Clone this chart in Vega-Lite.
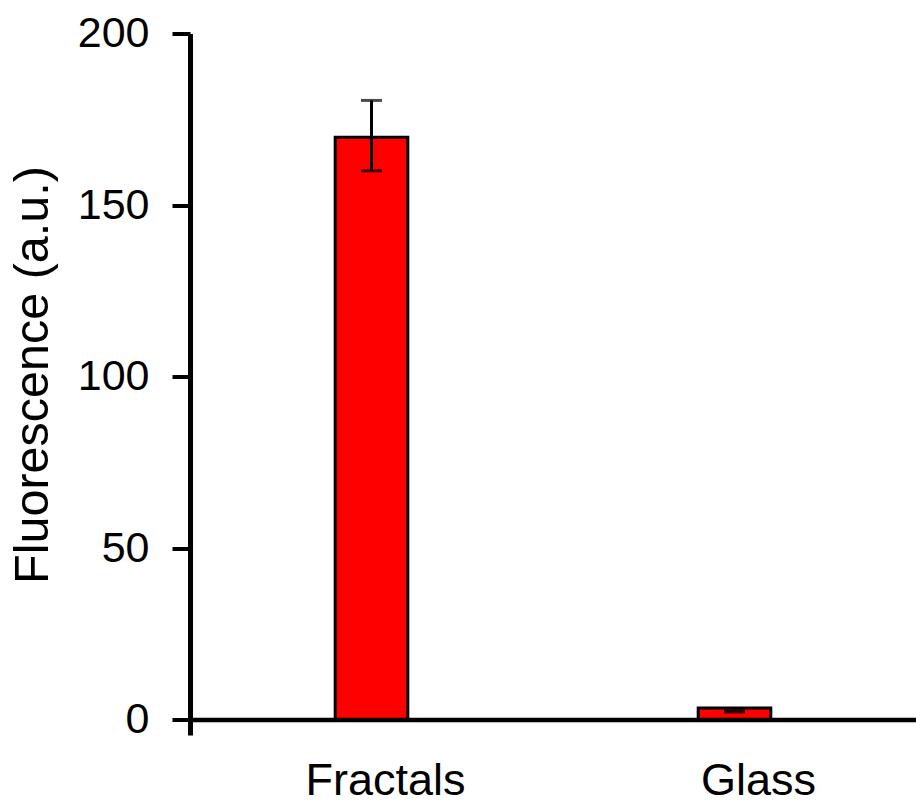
{
  "$schema": "https://vega.github.io/schema/vega-lite/v6.json",
  "width": 726,
  "height": 701.5,
  "autosize": "none",
  "padding": {"left": 190, "top": 33.5, "right": 0, "bottom": 71},
  "config": {"view": {"stroke": null}, "font": "Liberation Sans"},
  "data": {
    "values": [
      {"surface": "Fractals", "fluorescence": 169.8, "low": 160, "high": 180.5},
      {"surface": "Glass", "fluorescence": 3.5, "low": 2.3, "high": 2.7}
    ]
  },
  "layer": [
    {
      "mark": {"type": "bar", "fill": "#ff0000", "stroke": "#000000", "strokeWidth": 3, "width": {"band": 0.2}},
      "encoding": {
        "x": {
          "field": "surface", "type": "nominal", "sort": null,
          "scale": {"paddingInner": 0, "paddingOuter": 0},
          "axis": {"domain": false, "ticks": false, "labelFontSize": 45, "labelPadding": 23, "labelAngle": 0, "labelColor": "#000000", "title": null,
                   "labelOffset": {"expr": "datum.value == 'Glass' ? 24 : 14"}}
        },
        "y": {
          "field": "fluorescence", "type": "quantitative",
          "scale": {"domain": [-4.4, 200], "nice": false, "zero": false},
          "axis": {
            "values": [0, 50, 100, 150, 200], "grid": false,
            "domain": true, "domainWidth": 5, "domainColor": "#000000",
            "tickSize": 18, "tickWidth": 4, "tickColor": "#000000",
            "labelFontSize": 43, "labelPadding": 23, "labelColor": "#000000",
            "title": "Fluorescence (a.u.)", "titleFontSize": 48.5, "titleFontWeight": "normal",
            "titleColor": "#000000", "titlePadding": 20, "titleY": 341
          }
        },
        "y2": {"datum": 0}
      }
    },
    {
      "mark": {"type": "rule", "strokeWidth": 3, "color": "#000000"},
      "encoding": {
        "x": {"field": "surface", "type": "nominal", "sort": null},
        "y": {"field": "low", "type": "quantitative"},
        "y2": {"field": "high"}
      }
    },
    {
      "mark": {"type": "tick", "orient": "horizontal", "size": 21, "thickness": 3, "color": "#000000"},
      "encoding": {
        "x": {"field": "surface", "type": "nominal", "sort": null},
        "y": {"field": "high", "type": "quantitative"}
      }
    },
    {
      "mark": {"type": "tick", "orient": "horizontal", "size": 21, "thickness": 3, "color": "#000000"},
      "encoding": {
        "x": {"field": "surface", "type": "nominal", "sort": null},
        "y": {"field": "low", "type": "quantitative"}
      }
    },
    {
      "data": {"values": [{"base": 0}]},
      "mark": {"type": "rule", "strokeWidth": 4.5, "color": "#000000"},
      "encoding": {
        "y": {"field": "base", "type": "quantitative"}
      }
    }
  ]
}
